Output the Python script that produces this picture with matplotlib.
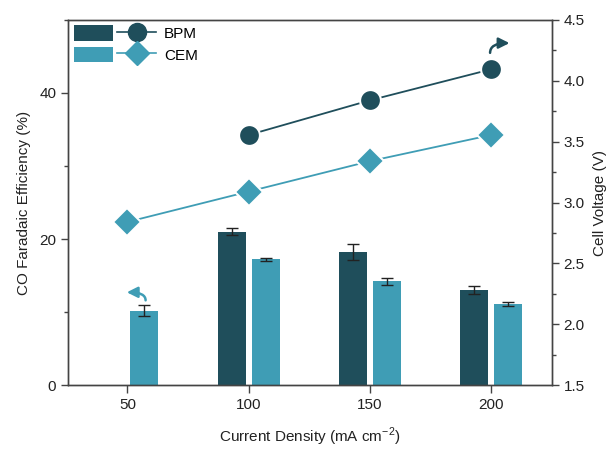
import matplotlib
matplotlib.use("Agg")
import matplotlib.pyplot as plt
import numpy as np
from matplotlib.patches import Patch
from matplotlib.lines import Line2D
from matplotlib.legend_handler import HandlerTuple
from matplotlib.ticker import MultipleLocator, FormatStrFormatter

plt.rcParams['font.family'] = ['Liberation Sans', 'DejaVu Sans']

categories = ['50', '100', '150', '200']
bpm_fe = [np.nan, 21.0, 18.2, 13.0]
bpm_fe_err = [np.nan, 0.45, 1.1, 0.5]
cem_fe = [10.2, 17.2, 14.2, 11.1]
cem_fe_err = [0.75, 0.15, 0.45, 0.3]
bpm_v = [np.nan, 3.555, 3.84, 4.095]
cem_v = [2.84, 3.09, 3.34, 3.555]

c_bpm = '#1f4e5b'
c_cem = '#3f9db5'

fig = plt.figure(figsize=(6.08, 4.5), dpi=100)
ax = fig.add_axes([0.1118, 0.1444, 0.796, 0.8112])
ax2 = ax.twinx()

x = np.arange(len(categories))
w = 0.23
off = 0.14
ax.bar(x - off, bpm_fe, w, color=c_bpm, yerr=bpm_fe_err, capsize=4.5,
       error_kw=dict(ecolor='#222222', elinewidth=1, capthick=1), zorder=2)
ax.bar(x + off, cem_fe, w, color=c_cem, yerr=cem_fe_err, capsize=4.5,
       error_kw=dict(ecolor='#222222', elinewidth=1, capthick=1), zorder=2)

ax2.plot(x, bpm_v, '-o', color=c_bpm, ms=15, mec='white', mew=1.5, lw=1.3, zorder=3)
ax2.plot(x, cem_v, '-D', color=c_cem, ms=14, mec='white', mew=1.5, lw=1.3, zorder=3)

ax.set_xlim(-0.49, 3.5)
ax.set_ylim(0, 50)
ax2.set_ylim(1.5, 4.5)
ax.set_xticks(x)
ax.set_xticklabels(categories)
ax.yaxis.set_major_locator(MultipleLocator(20))
ax.yaxis.set_minor_locator(MultipleLocator(10))
ax2.yaxis.set_major_locator(MultipleLocator(0.5))
ax2.yaxis.set_minor_locator(MultipleLocator(0.25))
ax2.yaxis.set_major_formatter(FormatStrFormatter('%.1f'))

for a in (ax, ax2):
    for s in a.spines.values():
        s.set_color('#444444')
        s.set_linewidth(1.0)
    a.tick_params(which='major', direction='out', length=5, width=1, color='#444444',
                  labelsize=11, labelcolor='#222222')
    a.tick_params(which='minor', direction='out', length=3, width=1, color='#444444')
ax.tick_params(axis='x', length=6)

ax.set_xlabel('Current Density (mA cm$^{\\mathregular{-2}}$)', fontsize=11,
              color='#222222', labelpad=10)
ax.set_ylabel('CO Faradaic Efficiency (%)', fontsize=11, color='#222222', labelpad=6)
ax2.set_ylabel('Cell Voltage (V)', fontsize=11, color='#222222', labelpad=6)

# curved arrows indicating axes
ax.annotate('', xy=(-0.005, 12.7), xytext=(0.15, 11.6),
            arrowprops=dict(arrowstyle='-|>', color=c_cem, lw=1.8,
                            connectionstyle='angle3,angleA=90,angleB=0',
                            mutation_scale=16, shrinkA=0, shrinkB=0))
ax2.annotate('', xy=(3.15, 4.31), xytext=(2.99, 4.23),
             arrowprops=dict(arrowstyle='-|>', color=c_bpm, lw=1.8,
                             connectionstyle='angle3,angleA=90,angleB=0',
                             mutation_scale=16, shrinkA=0, shrinkB=0))

h_bpm = (Patch(facecolor=c_bpm), Line2D([], [], color=c_bpm, marker='o', ms=13, lw=1.2))
h_cem = (Patch(facecolor=c_cem), Line2D([], [], color=c_cem, marker='D', ms=12, lw=1.2))
leg = ax.legend([h_bpm, h_cem], ['BPM', 'CEM'],
                handler_map={tuple: HandlerTuple(ndivide=None, pad=0.3)},
                loc='upper left', bbox_to_anchor=(-0.01, 1.015), frameon=False,
                fontsize=11, handlelength=5.4, handleheight=1.2, handletextpad=0.5,
                labelspacing=0.35, borderaxespad=0.3)
leg.set_zorder(5)

fig.savefig('out.png', dpi=100)
